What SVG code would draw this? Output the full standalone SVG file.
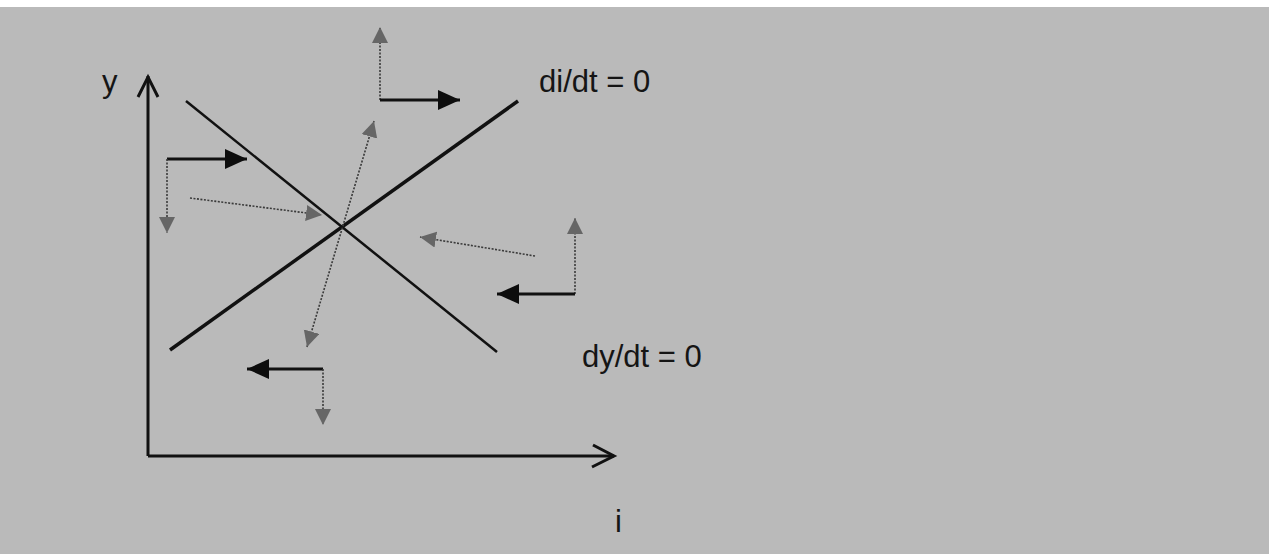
<svg xmlns="http://www.w3.org/2000/svg" width="1269" height="554" viewBox="0 0 1269 554">
<style>
.ax{stroke:#111;stroke-width:3;fill:none}
.iso{stroke:#111;fill:none}
.blk{stroke:#111;stroke-width:3;fill:none}
.gry{stroke:#3a3a3a;stroke-width:1.6;stroke-dasharray:2 1.5;fill:none}
.lbl{font-family:"Liberation Sans",Arial,sans-serif;font-size:31px;fill:#151515}
</style>
<defs>
<marker id="hb" markerUnits="userSpaceOnUse" markerWidth="24" markerHeight="22" refX="22" refY="10" orient="auto"><path d="M0,0 L22,10 L0,20 Z" fill="#0d0d0d"/></marker>
<marker id="hg" markerUnits="userSpaceOnUse" markerWidth="18" markerHeight="18" refX="16" refY="8" orient="auto"><path d="M0,0 L16,8 L0,16 Z" fill="#666"/></marker>
<marker id="hgs" markerUnits="userSpaceOnUse" markerWidth="18" markerHeight="18" refX="16" refY="8" orient="auto-start-reverse"><path d="M0,0 L16,8 L0,16 Z" fill="#666"/></marker>
</defs>
<rect x="0" y="0" width="1269" height="554" fill="#bababa"/>
<rect x="0" y="0" width="1269" height="7" fill="#ffffff"/>
<g id="axes">
<path class="ax" d="M148,456 L148,76"/>
<path class="ax" d="M138,97 L148,77 L158,97"/>
<path class="ax" d="M148,456 L614,456"/>
<path class="ax" d="M593,445 L614,456 L592,467"/>
</g>
<g id="y-label"><text class="lbl" x="102" y="92">y</text></g>
<g id="i-label"><text class="lbl" x="615" y="532">i</text></g>
<g id="di-isocline"><path class="iso" stroke-width="3.5" d="M170,350 L518,101"/></g>
<g id="dy-isocline"><path class="iso" stroke-width="2.5" d="M186,101 L497,352"/></g>
<g id="di-label"><text class="lbl" x="539" y="92">di/dt = 0</text></g>
<g id="dy-label"><text class="lbl" x="582" y="367">dy/dt = 0</text></g>
<g id="connectors">
<path class="blk" d="M167,159 L247,159" marker-end="url(#hb)"/>
<path class="gry" d="M167,159 L167,233" marker-end="url(#hg)"/>
<path class="gry" d="M190,198 L322,215" marker-end="url(#hg)"/>
<path class="gry" d="M380,100 L380,27" marker-end="url(#hg)"/>
<path class="blk" d="M380,100 L460,100" marker-end="url(#hb)"/>
<path class="gry" d="M307,347 L374,121" marker-start="url(#hgs)" marker-end="url(#hg)"/>
<path class="gry" d="M535,256 L420,237" marker-end="url(#hg)"/>
<path class="gry" d="M575,294 L575,218" marker-end="url(#hg)"/>
<path class="blk" d="M575,294 L497,294" marker-end="url(#hb)"/>
<path class="blk" d="M323,369 L247,369" marker-end="url(#hb)"/>
<path class="gry" d="M323,369 L323,425" marker-end="url(#hg)"/>
</g>
</svg>
